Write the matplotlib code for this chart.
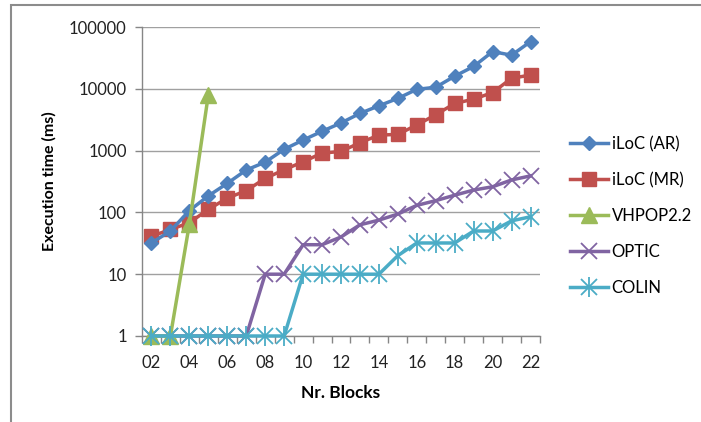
import matplotlib
matplotlib.use("Agg")
import matplotlib.pyplot as plt
from matplotlib.patches import Rectangle
from matplotlib.legend_handler import HandlerTuple

plt.rcParams['font.family'] = ['Lato', 'DejaVu Sans']

categories = ["02", "03", "04", "05", "06", "07", "08", "09", "10", "11", "12",
              "13", "14", "15", "16", "17", "18", "19", "20", "21", "22"]

iloc_ar = [32, 50, 107, 185, 295, 485, 650, 1050, 1480, 2050, 2800,
           4000, 5300, 7000, 9800, 10600, 16000, 23000, 40000, 35000, 58000]
iloc_mr = [41, 53, 68, 112, 170, 225, 355, 490, 660, 910, 970,
           1340, 1780, 1830, 2600, 3800, 5800, 6800, 8700, 14800, 16700]
vhpop = [1, 1, 65, 8000]
optic = [1, 1, 1, 1, 1, 1, 10, 10, 30, 30, 40,
         63, 75, 94, 130, 155, 190, 230, 260, 335, 390]
colin = [1, 1, 1, 1, 1, 1, 1, 1, 10, 10, 10,
         10, 10, 20, 32, 32, 32, 50, 50, 73, 85]

yticks = [1, 10, 100, 1000, 10000, 100000]
xlabels_shown = categories[::2]

C_AR = "#4F81BD"
C_MR = "#C0504D"
C_VH = "#9BBB59"
C_OP = "#8064A2"
C_CO = "#4BACC6"

fig = plt.figure(figsize=(7.01, 4.22), dpi=100)
ax = fig.add_axes([142/701, 1-336/422, (540-142)/701, (336-27)/422])

x = list(range(len(categories)))
lw = 2.5

l_ar, = ax.plot(x, iloc_ar, color=C_AR, lw=lw, marker='D', ms=7, zorder=5, clip_on=False)
l_mr, = ax.plot(x, iloc_mr, color=C_MR, lw=lw, marker='s', ms=10, zorder=4, clip_on=False)
l_vh, = ax.plot(x[:len(vhpop)], vhpop, color=C_VH, lw=lw, marker='^', ms=11, zorder=6, clip_on=False)
l_op, = ax.plot(x, optic, color=C_OP, lw=lw, marker='x', ms=12, mew=1.3, zorder=3, clip_on=False)
l_co, = ax.plot(x, colin, color=C_CO, lw=lw, marker='x', ms=11, mew=1.3, zorder=7, clip_on=False)
l_co2, = ax.plot(x, colin, color=C_CO, lw=0, marker='|', ms=14, mew=1.3, zorder=7, clip_on=False)

ax.set_yscale('log')
ax.set_ylim(1, 100000)
ax.set_yticks(yticks)
ax.set_yticklabels([str(v) for v in yticks])
ax.minorticks_off()
ax.set_xlim(-0.5, len(categories) - 0.5)

# category boundaries as major ticks; labels via minor ticks
ax.set_xticks([i - 0.5 for i in range(len(categories) + 1)])
ax.set_xticklabels([])
ax.set_xticks(x[::2], minor=True)
ax.set_xticklabels(xlabels_shown, minor=True)
ax.tick_params(axis='x', which='major', length=5, color='#868686', width=1, direction='out')
ax.tick_params(axis='x', which='minor', length=0, pad=14, labelsize=12, labelcolor='#222222')
ax.tick_params(axis='y', which='major', length=5, color='#868686', width=1, labelsize=12,
               labelcolor='#222222', pad=6)

ax.grid(axis='y', color='#A0A0A0', lw=1)
ax.set_axisbelow(True)
for s in ['top', 'right']:
    ax.spines[s].set_visible(False)
for s in ['left', 'bottom']:
    ax.spines[s].set_color('#868686')
    ax.spines[s].set_linewidth(1)

ax.set_xlabel("Nr. Blocks", fontsize=12.5, fontweight='bold', labelpad=10)
ax.set_ylabel("Execution time (ms)", fontsize=11.5, fontweight='bold', labelpad=9)

leg = fig.legend([l_ar, l_mr, l_vh, l_op, (l_co, l_co2)],
                 ["iLoC (AR)", "iLoC (MR)", "VHPOP2.2", "OPTIC", "COLIN"],
                 handler_map={tuple: HandlerTuple(ndivide=1)},
                 loc='upper left', bbox_to_anchor=(555/701, 1-121/422),
                 frameon=False, fontsize=12, handlelength=2.3, handletextpad=0.2,
                 labelspacing=1.2)

fig.patches.append(Rectangle((11/701, -0.1), 1.2, 1-5/422 + 0.1, transform=fig.transFigure,
                             fill=False, edgecolor='#8C8C8C', lw=1.5))

fig.savefig("out.png", dpi=100)
